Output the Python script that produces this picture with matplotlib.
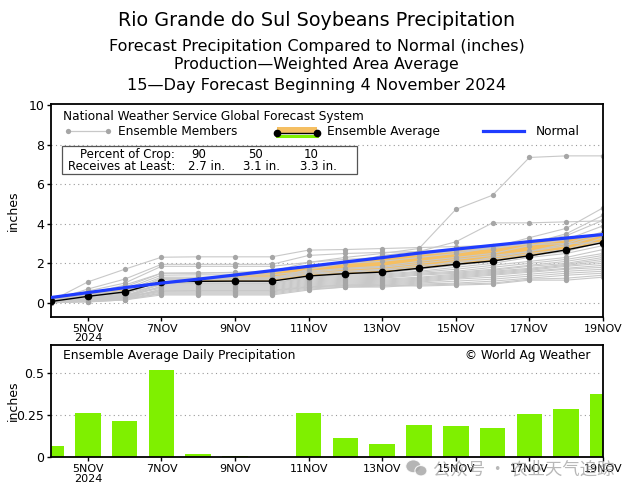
import matplotlib
matplotlib.use("Agg")
import matplotlib.pyplot as plt
from matplotlib import font_manager
from matplotlib.patches import Rectangle, Ellipse
from matplotlib.lines import Line2D

# ---------------------------------------------------------------------------
# Data (inches)
# ---------------------------------------------------------------------------
days = [4, 5, 6, 7, 8, 9, 10, 11, 12, 13, 14, 15, 16, 17, 18, 19]   # November
tick_days = [5, 7, 9, 11, 13, 15, 17, 19]
tick_labels = ["5NOV\n2024", "7NOV", "9NOV", "11NOV", "13NOV", "15NOV",
               "17NOV", "19NOV"]

ens_avg = [0.07, 0.33, 0.55, 1.07, 1.09, 1.10, 1.10, 1.36,
           1.48, 1.56, 1.75, 1.95, 2.12, 2.38, 2.68, 3.05]
normal = [0.27, 0.52, 0.77, 1.00, 1.20, 1.41, 1.63, 1.85,
          2.07, 2.29, 2.52, 2.72, 2.91, 3.10, 3.28, 3.46]
daily_avg = [0.068, 0.265, 0.219, 0.516, 0.022, 0.008, 0.004, 0.261,
             0.114, 0.078, 0.193, 0.189, 0.175, 0.255, 0.289, 0.378]

members = [
    [0.05, 0.45, 0.90, 1.50, 1.50, 1.55, 1.60, 2.05, 2.30, 2.50, 2.75, 4.73, 5.45, 7.36, 7.44, 7.44],
    [0.05, 0.30, 0.50, 1.20, 1.20, 1.20, 1.20, 1.70, 2.00, 2.40, 2.60, 3.09, 4.05, 4.05, 4.10, 4.15],
    [0.10, 1.06, 1.70, 2.31, 2.33, 2.33, 2.33, 2.67, 2.70, 2.75, 2.80, 2.85, 2.90, 2.95, 3.00, 3.05],
    [0.10, 0.70, 1.20, 1.95, 1.95, 1.95, 1.95, 2.40, 2.50, 2.55, 2.60, 2.70, 2.80, 3.30, 3.77, 4.81],
    [0.05, 0.60, 1.00, 1.85, 1.85, 1.85, 1.85, 2.05, 2.20, 2.30, 2.45, 2.60, 2.75, 3.00, 3.50, 4.43],
    [0.00, 0.50, 0.80, 1.50, 1.52, 1.52, 1.52, 1.90, 2.00, 2.10, 2.30, 2.50, 2.80, 3.10, 3.40, 4.18],
    [0.05, 0.40, 0.70, 1.40, 1.42, 1.42, 1.42, 1.60, 1.75, 1.85, 2.10, 2.30, 2.50, 2.90, 3.20, 3.90],
    [0.03, 0.35, 0.60, 1.30, 1.30, 1.30, 1.30, 1.55, 1.70, 1.80, 2.00, 2.20, 2.40, 2.60, 3.00, 3.60],
    [0.02, 0.20, 0.40, 1.25, 1.25, 1.25, 1.25, 1.50, 1.60, 1.70, 1.90, 2.00, 2.30, 2.60, 2.90, 3.46],
    [0.05, 0.30, 0.55, 1.20, 1.20, 1.20, 1.20, 1.45, 1.55, 1.65, 1.80, 2.10, 2.20, 2.50, 2.70, 3.30],
    [0.04, 0.25, 0.45, 1.10, 1.10, 1.10, 1.10, 1.35, 1.45, 1.50, 1.70, 1.90, 2.10, 2.40, 2.60, 3.10],
    [0.05, 0.20, 0.35, 1.00, 1.00, 1.00, 1.00, 1.30, 1.40, 1.45, 1.60, 1.80, 2.00, 2.30, 2.50, 2.90],
    [0.10, 0.40, 0.60, 1.00, 1.00, 1.00, 1.00, 1.25, 1.35, 1.40, 1.55, 1.70, 1.90, 2.10, 2.30, 2.70],
    [0.02, 0.15, 0.30, 0.95, 0.95, 0.95, 0.95, 1.20, 1.30, 1.35, 1.50, 1.60, 1.80, 2.00, 2.20, 2.50],
    [0.05, 0.30, 0.50, 0.90, 0.90, 0.90, 0.90, 1.15, 1.25, 1.30, 1.45, 1.55, 1.70, 1.90, 2.10, 2.40],
    [0.03, 0.10, 0.25, 0.85, 0.85, 0.85, 0.85, 1.10, 1.20, 1.25, 1.40, 1.50, 1.65, 1.85, 2.00, 2.30],
    [0.02, 0.25, 0.40, 0.80, 0.80, 0.80, 0.80, 1.05, 1.15, 1.20, 1.30, 1.45, 1.60, 1.75, 1.95, 2.20],
    [0.05, 0.20, 0.35, 0.75, 0.75, 0.75, 0.75, 1.00, 1.10, 1.15, 1.25, 1.40, 1.55, 1.70, 1.90, 2.10],
    [0.00, 0.10, 0.20, 0.70, 0.70, 0.70, 0.70, 0.95, 1.05, 1.10, 1.20, 1.35, 1.50, 1.65, 1.85, 2.00],
    [0.05, 0.20, 0.30, 0.65, 0.65, 0.65, 0.65, 0.90, 1.00, 1.05, 1.15, 1.30, 1.45, 1.60, 1.75, 1.90],
    [0.02, 0.15, 0.25, 0.60, 0.62, 0.62, 0.62, 0.85, 0.95, 1.00, 1.10, 1.25, 1.40, 1.55, 1.70, 1.80],
    [0.03, 0.10, 0.20, 0.55, 0.55, 0.55, 0.55, 0.80, 0.90, 0.95, 1.05, 1.20, 1.30, 1.45, 1.60, 1.70],
    [0.02, 0.05, 0.15, 0.50, 0.50, 0.50, 0.50, 0.75, 0.85, 0.90, 1.00, 1.10, 1.20, 1.35, 1.50, 1.60],
    [0.00, 0.10, 0.20, 0.45, 0.45, 0.45, 0.45, 0.70, 0.80, 0.85, 0.95, 1.00, 1.10, 1.25, 1.40, 1.50],
    [0.02, 0.05, 0.15, 0.40, 0.40, 0.40, 0.40, 0.65, 0.80, 0.80, 0.90, 0.95, 1.00, 1.20, 1.25, 1.40],
    [0.05, 0.20, 0.30, 0.60, 0.60, 0.60, 0.60, 0.80, 0.90, 0.90, 0.85, 0.90, 0.95, 1.15, 1.15, 1.30],
]

crop_pct = ["90", "50", "10"]
crop_amt = ["2.7 in.", "3.1 in.", "3.3 in."]

# ---------------------------------------------------------------------------
# Style
# ---------------------------------------------------------------------------
MEMBER_LINE = "#c8c8c8"
MEMBER_DOT = "#a6a6a6"
FILL_COLOR = "#f5bf62"
NORMAL_COLOR = "#1f3cff"
BAR_COLOR = "#7ff000"
GRID_KW = dict(color="#9a9a9a", linestyle=(0, (1, 3)), linewidth=0.8)
LEG_SIZE = 8.7

_installed = {f.name for f in font_manager.fontManager.ttflist}
TICK_FONT = "Liberation Sans Narrow" if "Liberation Sans Narrow" in _installed else "DejaVu Sans"


def style_axes(ax, ylim, yticks, yticklabels):
    ax.set_xlim(4, 19)
    ax.set_ylim(*ylim)
    ax.set_xticks(tick_days)
    ax.set_xticklabels(tick_labels, fontsize=8, family=TICK_FONT, linespacing=0.95)
    ax.set_yticks(yticks)
    ax.set_yticklabels(yticklabels, fontsize=9)
    ax.tick_params(direction="out", length=3, width=1, pad=2)
    for s in ax.spines.values():
        s.set_linewidth(1.3)
    ax.set_ylabel("inches", fontsize=9)
    ax.yaxis.set_label_coords(-0.057, 0.5)


def plot_top(fig):
    ax = fig.add_axes([0.0806, 0.3602, 0.872, 0.4291])
    style_axes(ax, (-0.7, 10.05), [0, 2, 4, 6, 8, 10], ["0", "2", "4", "6", "8", "10"])
    for yv in [0, 2, 4, 6, 8]:
        ax.axhline(yv, zorder=0, **GRID_KW)

    ax.fill_between(days, ens_avg, normal, where=[n > a for n, a in zip(normal, ens_avg)],
                    interpolate=True, color=FILL_COLOR, lw=0, zorder=1)
    for m in members:
        ax.plot(days, m, color=MEMBER_LINE, lw=0.8, marker="o", ms=3.8,
                mfc=MEMBER_DOT, mec="none", zorder=2)
    ax.plot(days, ens_avg, color="black", lw=1.0, marker="o", ms=4.5, zorder=4)
    ax.plot(days, normal, color=NORMAL_COLOR, lw=2.3, zorder=5)

    # legend drawn by hand in axes coordinates
    t = ax.transAxes
    ax.text(0.021, 0.943, "National Weather Service Global Forecast System",
            transform=t, fontsize=LEG_SIZE, va="center")
    ax.add_line(Line2D([0.031, 0.104], [0.872, 0.872], transform=t, color=MEMBER_LINE,
                       lw=0.9, marker="o", ms=3.8, mfc=MEMBER_DOT, mec="none"))
    ax.text(0.122, 0.872, "Ensemble Members", transform=t, fontsize=LEG_SIZE, va="center")
    ax.add_patch(Rectangle((0.409, 0.866), 0.072, 0.026, transform=t,
                           color=FILL_COLOR, lw=0))
    ax.add_line(Line2D([0.409, 0.481], [0.852, 0.852], transform=t, color=BAR_COLOR, lw=2.2))
    ax.add_line(Line2D([0.409, 0.481], [0.866, 0.866], transform=t, color="black",
                       lw=1.0, marker="o", ms=4.5))
    ax.text(0.500, 0.872, "Ensemble Average", transform=t, fontsize=LEG_SIZE, va="center")
    ax.add_line(Line2D([0.783, 0.857], [0.872, 0.872], transform=t,
                       color=NORMAL_COLOR, lw=2.3))
    ax.text(0.878, 0.872, "Normal", transform=t, fontsize=LEG_SIZE, va="center")

    # percent-of-crop box
    ax.add_patch(Rectangle((0.020, 0.670), 0.5345, 0.134, transform=t,
                           fill=False, ec="#555555", lw=0.9))
    ax.text(0.225, 0.762, "Percent of Crop:", transform=t, fontsize=8.5,
            ha="right", va="center")
    ax.text(0.225, 0.708, "Receives at Least:", transform=t, fontsize=8.5,
            ha="right", va="center")
    for xc, pct in zip([0.268, 0.370, 0.472], crop_pct):
        ax.text(xc, 0.762, pct, transform=t, fontsize=8.5, ha="center", va="center")
    for xc, amt in zip([0.281, 0.382, 0.484], crop_amt):
        ax.text(xc, 0.708, amt, transform=t, fontsize=8.5, ha="center", va="center")
    return ax


def plot_bottom(fig):
    ax = fig.add_axes([0.0806, 0.0758, 0.872, 0.2272])
    style_axes(ax, (0, 0.667), [0, 0.25, 0.5], ["0", "0.25", "0.5"])
    for yv in [0.25, 0.5]:
        ax.axhline(yv, zorder=0, **GRID_KW)
    ax.bar(days, daily_avg, width=0.7, color=BAR_COLOR, edgecolor="none", zorder=2)
    t = ax.transAxes
    ax.text(0.021, 0.905, "Ensemble Average Daily Precipitation", transform=t,
            fontsize=8.9, va="center")
    ax.text(0.978, 0.905, "\u00a9 World Ag Weather", transform=t, fontsize=8.7,
            va="center", ha="right")
    return ax


def add_watermark(fig):
    # WeChat account watermark stamped over the original image
    for (cx, cy), (w, h) in [((0.653, 0.058), (0.024, 0.026)),
                             ((0.665, 0.049), (0.019, 0.021))]:
        fig.patches.append(Ellipse((cx, cy), w, h, transform=fig.transFigure,
                                   facecolor="#a8a8a8", edgecolor="white",
                                   lw=0.8, alpha=0.85))
    fig.text(0.827, 0.052, "\u516c\u4f17\u53f7 \u00b7 \u519c\u4e1a\u5929\u6c14\u8ffd\u8e2a",
             ha="center", va="center", fontsize=12.5, color="#9a9a9a", alpha=0.7,
             family=["Noto Sans CJK SC", "DejaVu Sans"])


def main():
    fig = plt.figure(figsize=(6.33, 4.95), dpi=100)
    titles = [
        ("Rio Grande do Sul Soybeans Precipitation", 0.959, 13.8),
        ("Forecast Precipitation Compared to Normal (inches)", 0.906, 11.5),
        ("Production\u2014Weighted Area Average", 0.869, 11.3),
        ("15\u2014Day Forecast Beginning 4 November 2024", 0.828, 11.6),
    ]
    for text, y, size in titles:
        fig.text(0.5, y, text, ha="center", va="center", fontsize=size)

    plot_top(fig)
    plot_bottom(fig)
    add_watermark(fig)

    fig.savefig("out.png", dpi=100)
    plt.close(fig)


if __name__ == "__main__":
    main()
